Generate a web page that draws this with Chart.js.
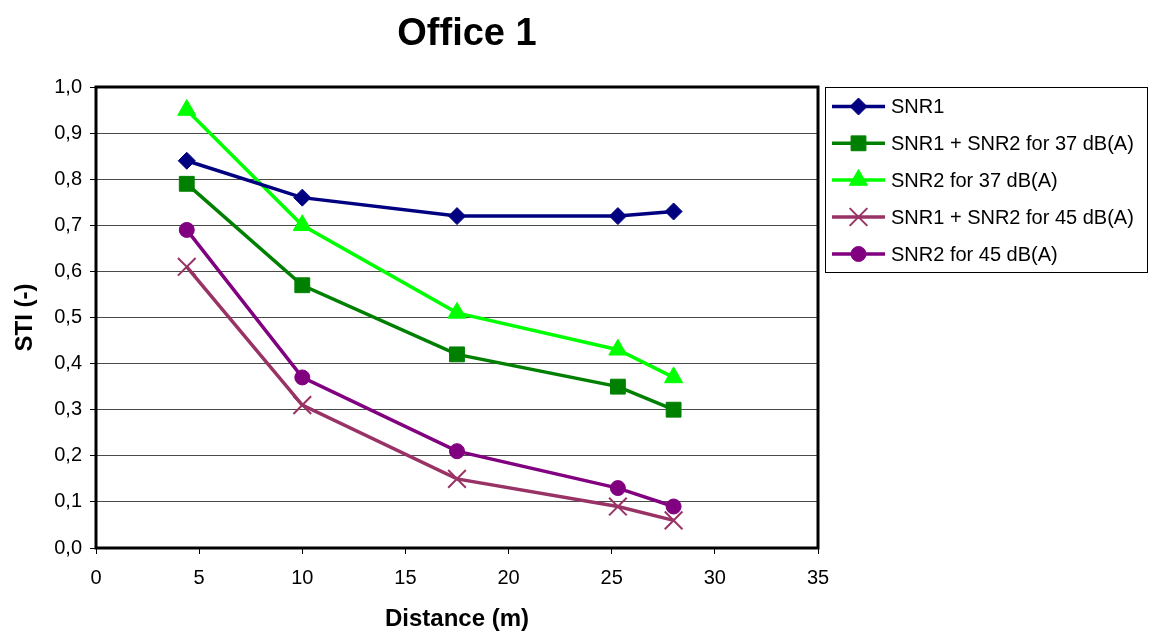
<!DOCTYPE html>
<html>
<head>
<meta charset="utf-8">
<title>Office 1</title>
<script src="https://cdn.jsdelivr.net/npm/chart.js@4.4.0/dist/chart.umd.min.js"></script>
<style>
  html, body { margin: 0; padding: 0; background: #fff; }
  #wrap { width: 1149px; height: 634px; }
</style>
</head>
<body>
<div id="wrap"><canvas id="chart" width="1149" height="634"></canvas></div>
<script>
// measured distances (m)
const distances = [4.4, 10.0, 17.5, 25.3, 28.0];

// STI values
const snr1 = [0.84, 0.76, 0.72, 0.72, 0.73];
const snr12at37 = [0.79, 0.57, 0.42, 0.35, 0.30];
const snr2at37 = [0.95, 0.70, 0.51, 0.43, 0.37];
const snr12at45 = [0.61, 0.31, 0.15, 0.09, 0.06];
const snr2at45 = [0.69, 0.37, 0.21, 0.13, 0.09];

const seriesNames = [
  'SNR1',
  'SNR1 + SNR2 for 37 dB(A)',
  'SNR2 for 37 dB(A)',
  'SNR1 + SNR2 for 45 dB(A)',
  'SNR2 for 45 dB(A)'
];

const FONT = "'Liberation Sans', Arial, sans-serif";

const toPoints = vals => vals.map((v, i) => ({ x: distances[i], y: v }));

const makeSet = (label, vals, color, style, radius, pbw) => ({
  label: label,
  data: toPoints(vals),
  borderColor: color,
  backgroundColor: color,
  borderWidth: 3.5,
  pointStyle: style,
  pointRadius: radius,
  pointHoverRadius: radius,
  pointBorderWidth: pbw,
  pointBorderColor: color,
  pointBackgroundColor: color,
  tension: 0
});

const datasets = [
  makeSet(seriesNames[0], snr1, '#000080', 'rectRot', 8.5, 1),
  makeSet(seriesNames[1], snr12at37, '#008000', 'rect', 10.5, 1),
  makeSet(seriesNames[2], snr2at37, '#00ff00', 'triangle', 10.5, 1),
  makeSet(seriesNames[3], snr12at45, '#993366', 'crossRot', 12.5, 2),
  makeSet(seriesNames[4], snr2at45, '#800080', 'circle', 7.5, 1)
];

// frame around the plot area + title + legend box like Excel
const excelBits = {
  id: 'excelBits',
  beforeDatasetsDraw(chart) {
    const { ctx, chartArea: a } = chart;
    ctx.save();
    ctx.strokeStyle = '#000';
    ctx.lineWidth = 3;
    ctx.strokeRect(a.left, a.top, a.right - a.left, a.bottom - a.top);
    ctx.restore();
  },
  afterDraw(chart) {
    const ctx = chart.ctx;
    ctx.save();
    // title
    ctx.fillStyle = '#000';
    ctx.font = 'bold 38px ' + FONT;
    ctx.textAlign = 'center';
    ctx.textBaseline = 'alphabetic';
    ctx.fillText('Office 1', 467, 45);

    // legend
    ctx.strokeStyle = '#000';
    ctx.lineWidth = 1;
    ctx.strokeRect(825.5, 87.5, 322, 185);
    const rowY = [106.5, 143.3, 180, 217, 254];
    chart.data.datasets.forEach((ds, i) => {
      const y = rowY[i];
      ctx.strokeStyle = ds.borderColor;
      ctx.lineWidth = ds.borderWidth;
      ctx.beginPath();
      ctx.moveTo(832, y);
      ctx.lineTo(885, y);
      ctx.stroke();
      ctx.fillStyle = ds.pointBackgroundColor;
      ctx.strokeStyle = ds.pointBorderColor;
      ctx.lineWidth = ds.pointBorderWidth;
      Chart.helpers.drawPoint(ctx, {
        pointStyle: ds.pointStyle,
        radius: ds.pointRadius,
        rotation: 0,
        borderWidth: ds.pointBorderWidth
      }, 858.5, y);
      ctx.fillStyle = '#000';
      ctx.font = '20px ' + FONT;
      ctx.textAlign = 'left';
      ctx.textBaseline = 'middle';
      ctx.fillText(ds.label, 891, y + 1);
    });
    ctx.restore();
  }
};

new Chart(document.getElementById('chart'), {
  type: 'line',
  data: { datasets: datasets },
  plugins: [excelBits],
  options: {
    responsive: false,
    animation: false,
    layout: { padding: { top: 87, left: 0, right: 331, bottom: 0 } },
    plugins: {
      legend: { display: false },
      title: { display: false },
      tooltip: { enabled: false }
    },
    scales: {
      x: {
        type: 'linear',
        min: 0,
        max: 35,
        afterFit: s => { s.height = 86; },
        ticks: { stepSize: 5, color: '#000', padding: 12, font: { family: FONT, size: 20 } },
        grid: { drawOnChartArea: false, drawTicks: true, tickLength: 6, tickColor: '#000' },
        border: { display: false },
        title: {
          display: true,
          text: 'Distance (m)',
          color: '#000',
          font: { family: FONT, size: 24, weight: 'bold' },
          padding: { top: 0, bottom: 0 }
        }
      },
      y: {
        min: 0,
        max: 1,
        afterFit: s => { s.width = 96; },
        ticks: {
          stepSize: 0.1,
          color: '#000',
          padding: 8,
          font: { family: FONT, size: 20 },
          callback: v => v.toFixed(1).replace('.', ',')
        },
        grid: { color: '#4a4a4a', lineWidth: 1, tickLength: 6, tickColor: '#000' },
        border: { display: false },
        title: {
          display: true,
          text: 'STI (-)',
          color: '#000',
          font: { family: FONT, size: 24, weight: 'bold' },
          padding: { top: 11, bottom: 0 }
        }
      }
    }
  }
});
</script>
</body>
</html>
